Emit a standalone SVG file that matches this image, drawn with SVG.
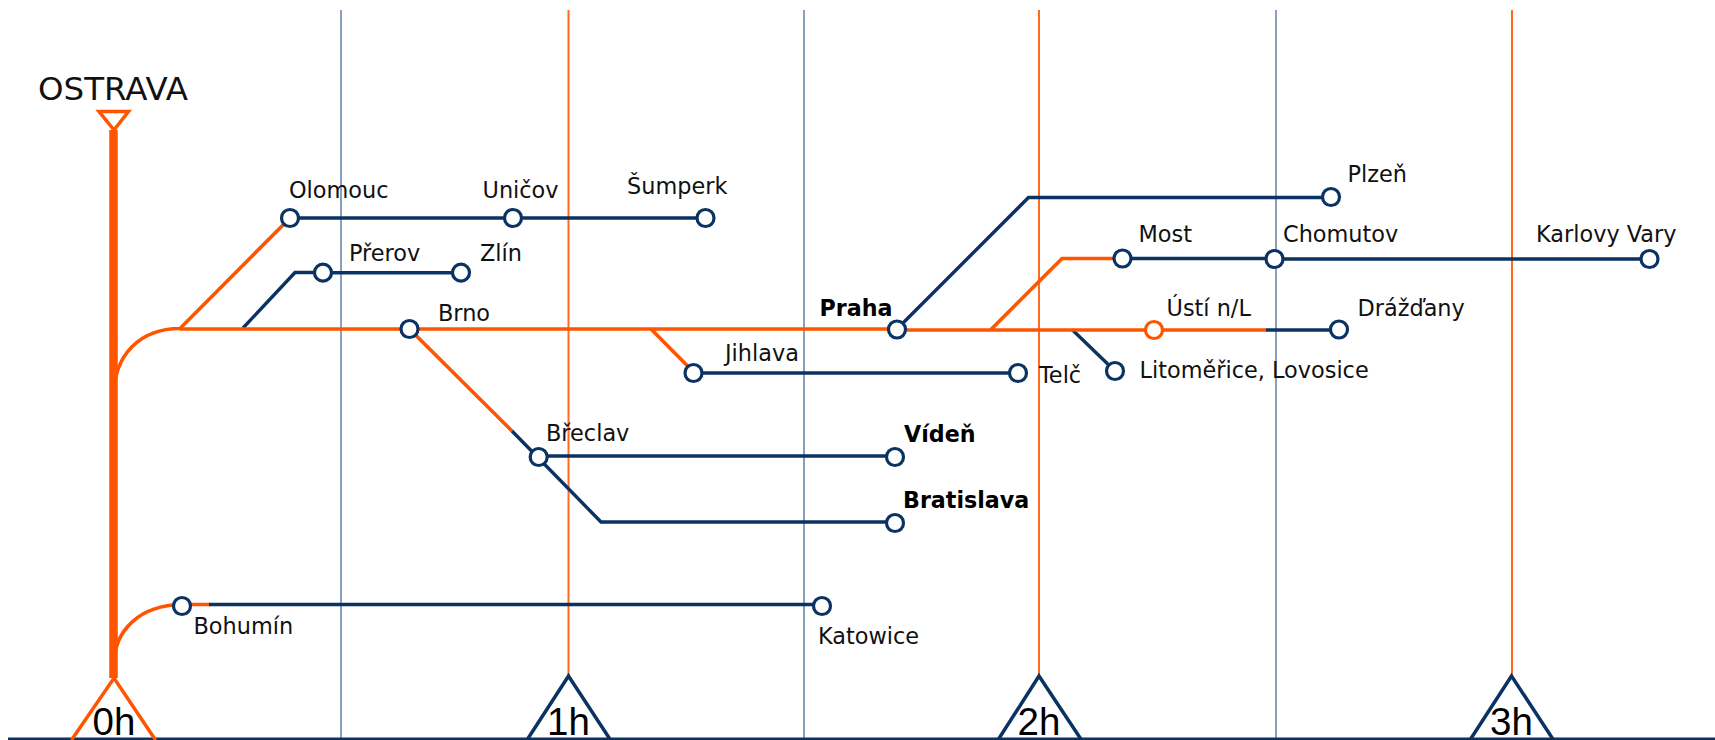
<svg xmlns="http://www.w3.org/2000/svg" width="1715" height="740" viewBox="0 0 1715 740">
<style>
text{font-family:"DejaVu Sans","Liberation Sans",sans-serif;font-size:22.4px;fill:#111}
.b{font-weight:bold;font-size:22.2px;fill:#000}
.h{font-family:"Liberation Sans",Arial,sans-serif;font-size:38.500px;fill:#000;text-anchor:middle}
.t{font-size:32.500px}
.o{fill:none;stroke:#ff5500;stroke-width:3.600}
.n{fill:none;stroke:#0a3363;stroke-width:3.400}
.gb{fill:none;stroke:#8ba0bc;stroke-width:2}
.go{fill:none;stroke:#ff6a20;stroke-width:2}
.s{fill:#fff;stroke:#0a3363;stroke-width:3.200}
.so{fill:#fff;stroke:#ff5500;stroke-width:3.200}
.to{fill:none;stroke:#ff5500;stroke-width:3.500}
.tn{fill:none;stroke:#0a3363;stroke-width:3.500}
</style>
<rect width="1715" height="740" fill="#fff"/>
<g id="grid">
<path class="gb" d="M341 10V738M804 10V738M1276 10V738"/>
<path class="go" d="M568.500 10V677M1039 10V677M1512 10V677"/>
</g>
<g id="connectors">
<path class="n" d="M243 328L295 272.500H323M323 272.700H461"/>
<path class="n" d="M290 218H705"/>
<path class="n" d="M1072 329.500L1115 371"/>
<path class="o" d="M114 395C114 355 140 328.500 180 328.500L290 218"/>
<path class="o" d="M180 329H897M897 330H1266"/>
<path class="o" d="M409.500 329L512 431"/>
<path class="n" d="M512 431L601 522H895"/>
<path class="n" d="M539 456H895"/>
<path class="o" d="M651 329L693.500 372"/>
<path class="n" d="M693.500 373H1018"/>
<path class="n" d="M897 329L1028.500 197.500H1331"/>
<path class="o" d="M991 329.500L1062 258.500H1122"/>
<path class="n" d="M1122 258.500H1275M1275 259H1650"/>
<path class="n" d="M1266 330H1339"/>
<path class="o" d="M114 665C114 630 140 605 182 604.500H210"/>
<path class="n" d="M209 604.500H822"/>
<path d="M113.500 130V678" fill="none" stroke="#ff5500" stroke-width="8.500"/>
<path d="M8 739H1715" fill="none" stroke="#0a3363" stroke-width="3"/>
</g>
<g id="ostrava"><path class="to" d="M99 111.500H128.500L114 130Z"/><text class="t" x="38" y="100">OSTRAVA</text></g>
<g id="h0"><path class="to" d="M71.500 740L114 678L155.500 740"/><text class="h" x="114" y="735">0h</text></g>
<g id="h1"><path class="tn" d="M527 740L568.500 676L610.500 740"/><text class="h" x="568.500" y="735">1h</text></g>
<g id="h2"><path class="tn" d="M998 740L1039 676L1081.500 740"/><text class="h" x="1039" y="735">2h</text></g>
<g id="h3"><path class="tn" d="M1470 740L1511.500 676L1553.500 740"/><text class="h" x="1511.500" y="735">3h</text></g>
<g id="olomouc"><circle class="s" cx="290" cy="218" r="8.500"/><text x="289" y="197.700">Olomouc</text></g>
<g id="unicov"><circle class="s" cx="513" cy="218" r="8.500"/><text x="482.500" y="197.700">Uničov</text></g>
<g id="sumperk"><circle class="s" cx="705.500" cy="218" r="8.500"/><text x="627" y="193.500">Šumperk</text></g>
<g id="prerov"><circle class="s" cx="323" cy="272.700" r="8.500"/><text x="349" y="261">Přerov</text></g>
<g id="zlin"><circle class="s" cx="461" cy="272.700" r="8.500"/><text x="480" y="261">Zlín</text></g>
<g id="brno"><circle class="s" cx="409.500" cy="329" r="8.500"/><text x="438" y="321">Brno</text></g>
<g id="breclav"><circle class="s" cx="538.700" cy="457" r="8.500"/><text x="546" y="441">Břeclav</text></g>
<g id="viden"><circle class="s" cx="895" cy="457" r="8.500"/><text class="b" x="904" y="442">Vídeň</text></g>
<g id="bratislava"><circle class="s" cx="895" cy="523" r="8.500"/><text class="b" x="903" y="508">Bratislava</text></g>
<g id="jihlava"><circle class="s" cx="693.500" cy="373" r="8.500"/><text x="725" y="361">Jihlava</text></g>
<g id="telc"><circle class="s" cx="1018" cy="373" r="8.500"/><text x="1039" y="383">Telč</text></g>
<g id="praha"><circle class="s" cx="897" cy="329.500" r="8.500"/><text class="b" x="819.500" y="316">Praha</text></g>
<g id="plzen"><circle class="s" cx="1331" cy="197" r="8.500"/><text x="1347.500" y="182">Plzeň</text></g>
<g id="most"><circle class="s" cx="1122.500" cy="258.500" r="8.500"/><text x="1138.500" y="242">Most</text></g>
<g id="chomutov"><circle class="s" cx="1274.500" cy="259" r="8.500"/><text x="1283" y="242">Chomutov</text></g>
<g id="karlovy-vary"><circle class="s" cx="1649.500" cy="259" r="8.500"/><text x="1536" y="242">Karlovy Vary</text></g>
<g id="usti"><circle class="so" cx="1154" cy="330" r="8.500"/><text x="1166.500" y="315.500">Ústí n/L</text></g>
<g id="drazdany"><circle class="s" cx="1339" cy="329.500" r="8.500"/><text x="1357.500" y="315.500">Drážďany</text></g>
<g id="litomerice"><circle class="s" cx="1115" cy="371" r="8.500"/><text x="1139.500" y="378">Litoměřice, Lovosice</text></g>
<g id="katowice"><circle class="s" cx="822" cy="606" r="8.500"/><text x="818" y="644">Katowice</text></g>
<g id="bohumin"><circle class="s" cx="182" cy="606" r="8.500"/><text x="193.500" y="633.500">Bohumín</text></g>
</svg>
